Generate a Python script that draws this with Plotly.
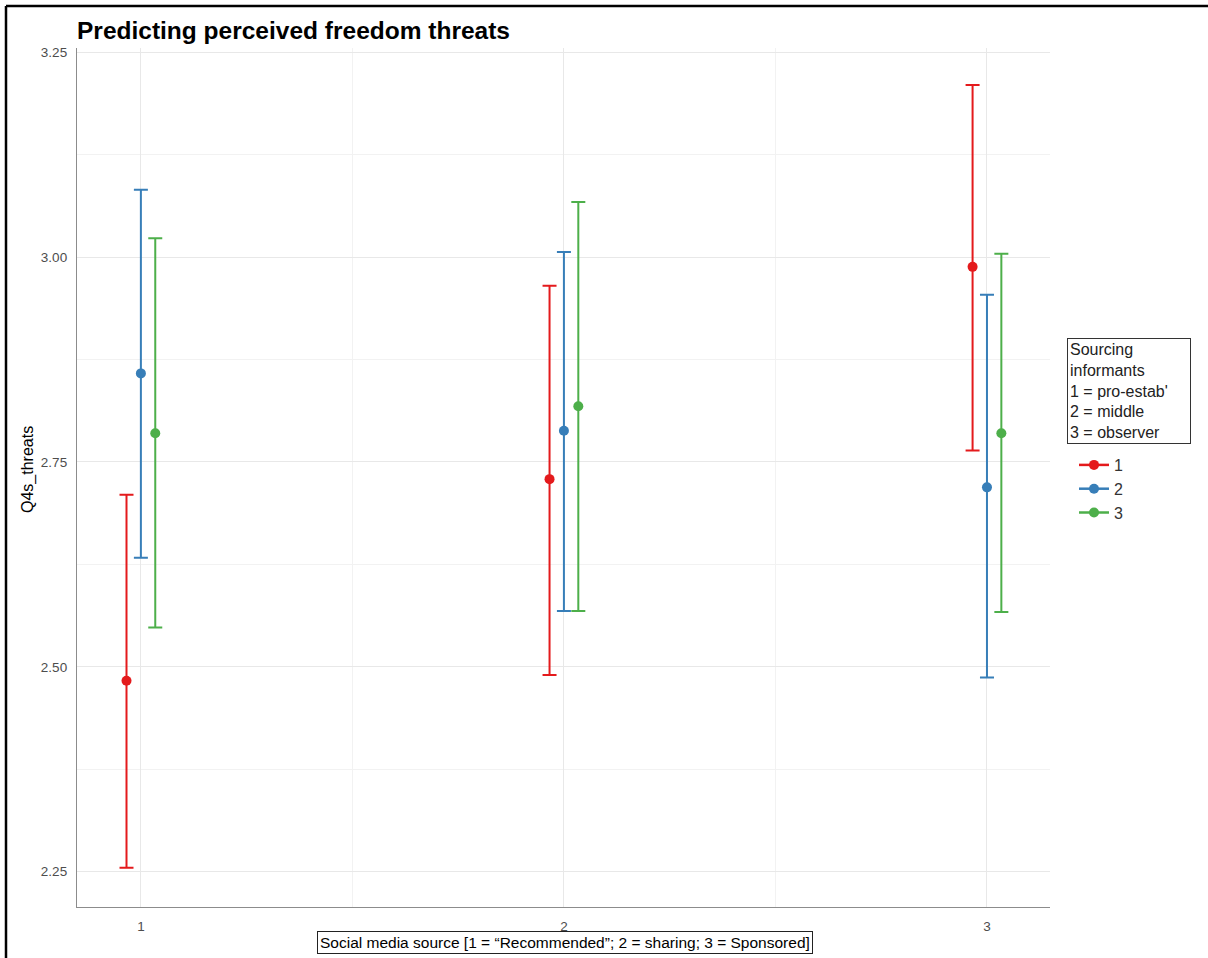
import plotly.graph_objects as go

# Social media source categories (x) and sourcing-informant groups (series)
sources = [1, 2, 3]
groups = ["1", "2", "3"]

# Estimated marginal means of Q4s_threats with 95% CI bounds
est_1 = [2.483, 2.729, 2.988]
low_1 = [2.255, 2.490, 2.764]
high_1 = [2.710, 2.965, 3.210]

est_2 = [2.858, 2.788, 2.719]
low_2 = [2.633, 2.568, 2.487]
high_2 = [3.082, 3.006, 2.954]

est_3 = [2.785, 2.818, 2.785]
low_3 = [2.548, 2.568, 2.567]
high_3 = [3.023, 3.067, 3.004]

series = [
    (groups[0], est_1, low_1, high_1, "#E41A1C", -0.034),
    (groups[1], est_2, low_2, high_2, "#377EB8", 0.0),
    (groups[2], est_3, low_3, high_3, "#4DAF4A", 0.034),
]

FONT = "Liberation Sans, Arial, sans-serif"

fig = go.Figure()
for name, est, low, high, color, dodge in series:
    fig.add_trace(go.Scatter(
        x=[s + dodge for s in sources],
        y=est,
        mode="markers",
        name=name,
        showlegend=False,
        marker=dict(color=color, size=10),
        error_y=dict(
            type="data", symmetric=False,
            array=[h - e for h, e in zip(high, est)],
            arrayminus=[e - l for e, l in zip(est, low)],
            color=color, thickness=2, width=7,
        ),
    ))

# legend entries: point with a short line through it
for name, est, low, high, color, dodge in series:
    fig.add_trace(go.Scatter(
        x=[None], y=[None], mode="lines+markers", name=name,
        line=dict(color=color, width=2.5),
        marker=dict(color=color, size=10),
    ))

# plot area in pixels: x 77..1050, y 48..907
L, R, T, B = 77, 1050, 48, 907
W, H = 1208, 958


def px(x):
    return (x - L) / (R - L)


def py(y):
    return 1 - (y - T) / (B - T)


fig.update_layout(
    width=W, height=H,
    margin=dict(l=L, r=W - R, t=T, b=H - B),
    paper_bgcolor="white", plot_bgcolor="white",
    font=dict(family=FONT, color="#4D4D4D", size=13),
    title=dict(
        text="<b>Predicting perceived freedom threats</b>",
        font=dict(size=24.5, color="black", family=FONT),
        xref="paper", x=0, xanchor="left",
        yref="container", y=1 - 30 / H, yanchor="middle",
    ),
    xaxis=dict(
        range=[0.849, 3.149], tickvals=sources, ticktext=["1", "2", "3"],
        showgrid=True, gridcolor="#E8E8E8", gridwidth=1.4,
        minor=dict(dtick=0.5, tick0=0.5, showgrid=True, gridcolor="#F2F2F2", gridwidth=1),
        showline=True, linecolor="#8C8C8C", linewidth=1.3,
        zeroline=False, ticks="", ticklabelstandoff=7,
        tickfont=dict(size=13.5, color="#4D4D4D"),
    ),
    yaxis=dict(
        range=[2.207, 3.255], tickvals=[2.25, 2.5, 2.75, 3.0, 3.25],
        ticktext=["2.25", "2.50", "2.75", "3.00", "3.25"],
        showgrid=True, gridcolor="#E8E8E8", gridwidth=1.4,
        minor=dict(dtick=0.125, tick0=2.125, showgrid=True, gridcolor="#F2F2F2", gridwidth=1),
        showline=True, linecolor="#8C8C8C", linewidth=1.3,
        zeroline=False, ticks="", ticklabelstandoff=6,
        tickfont=dict(size=13.5, color="#4D4D4D"),
    ),
    legend=dict(
        x=px(1074), y=py(448), xanchor="left", yanchor="top",
        font=dict(size=16, color="#333333"), bgcolor="rgba(0,0,0,0)",
        itemwidth=30, tracegroupgap=0,
    ),
    showlegend=True,
)

# y-axis title
fig.add_annotation(
    xref="paper", yref="paper", x=px(28), y=py(470),
    xanchor="center", yanchor="middle", showarrow=False, textangle=-90,
    text="Q4s_threats", font=dict(size=16, color="black"),
)

# boxed legend heading
fig.add_annotation(
    xref="paper", yref="paper", x=px(1067), y=py(338),
    xanchor="left", yanchor="top", align="left", showarrow=False,
    width=118,
    text="Sourcing<br>informants<br>1 = pro-estab'<br>2 = middle<br>3 = observer",
    font=dict(size=16, color="#222222"),
    bordercolor="#333333", borderwidth=1, borderpad=2, bgcolor="white",
)

# boxed x-axis title
fig.add_annotation(
    xref="paper", yref="paper", x=px(565), y=py(943),
    xanchor="center", yanchor="middle", showarrow=False,
    text="Social media source [1 = \u201cRecommended\u201d; 2 = sharing; 3 = Sponsored]",
    font=dict(size=15.5, color="black"),
    bordercolor="#222222", borderwidth=1, borderpad=2, bgcolor="white",
)

# outer frame (top and left edges)
fig.add_shape(type="line", xref="paper", yref="paper",
              x0=px(6), x1=px(1208), y0=py(6), y1=py(6),
              line=dict(color="black", width=2.5))
fig.add_shape(type="line", xref="paper", yref="paper",
              x0=px(6), x1=px(6), y0=py(6), y1=py(958),
              line=dict(color="black", width=2.5))

fig.write_html("out.html")
